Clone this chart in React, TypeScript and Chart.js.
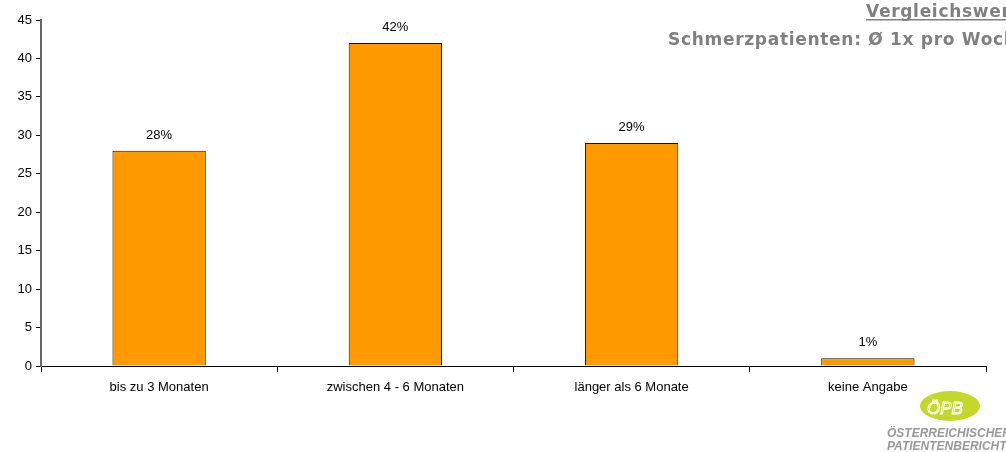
import React, { useEffect, useRef } from "react";
import { Chart, registerables } from "chart.js";
Chart.register(...registerables);

const categories = ["bis zu 3 Monaten", "zwischen 4 - 6 Monaten", "länger als 6 Monate", "keine Angabe"];
const values = [28, 42, 29, 1];
const valueLabels = ["28%", "42%", "29%", "1%"];
const titleLine1 = "Vergleichswerte";
const titleLine2 = "Schmerzpatienten: Ø 1x pro Woche";
const logoText = "ÖPB";
const logoLine1 = "ÖSTERREICHISCHER";
const logoLine2 = "PATIENTENBERICHT";

const FONT = "'Liberation Sans', Arial, sans-serif";
const TITLE_FONT = "'DejaVu Sans', Verdana, sans-serif";

const decorPlugin = {
  id: "decor",
  afterDatasetsDraw(chart: any) {
    const ctx = chart.ctx;
    const meta = chart.getDatasetMeta(0);
    ctx.save();
    ctx.fillStyle = "#000";
    ctx.font = `13px ${FONT}`;
    ctx.textAlign = "center";
    ctx.textBaseline = "alphabetic";
    meta.data.forEach((bar: any, i: number) => {
      ctx.fillText(valueLabels[i], bar.x, bar.y - 12);
    });
    // title
    ctx.fillStyle = "#808080";
    ctx.font = `bold 17px ${TITLE_FONT}`;
    ctx.letterSpacing = "0.7px";
    ctx.textAlign = "left";
    ctx.fillText(titleLine1, 866, 17);
    const w1 = ctx.measureText(titleLine1).width;
    ctx.fillRect(866, 19, w1, 1.5);
    ctx.fillText(titleLine2, 668, 45);
    ctx.letterSpacing = "0px";
    // logo
    ctx.fillStyle = "#c3d82a";
    ctx.beginPath();
    ctx.ellipse(950, 406, 30, 15, 0, 0, Math.PI * 2);
    ctx.fill();
    ctx.font = `italic 17px ${FONT}`;
    ctx.strokeStyle = "#fff";
    ctx.lineWidth = 1;
    ctx.textAlign = "center";
    ctx.strokeText(logoText, 945, 414);
    ctx.fillStyle = "#999";
    ctx.font = `italic bold 12px ${FONT}`;
    ctx.textAlign = "left";
    ctx.fillText(logoLine1, 887, 437);
    ctx.fillText(logoLine2, 887, 450);
    ctx.restore();
  },
};

export default function App() {
  const ref = useRef<HTMLCanvasElement>(null);
  useEffect(() => {
    const chart = new Chart(ref.current!, {
      type: "bar",
      data: {
        labels: categories,
        datasets: [
          {
            data: values,
            backgroundColor: "#FF9900",
            borderColor: "#111",
            borderWidth: 1,
            categoryPercentage: 1,
            barPercentage: 0.395,
          },
        ],
      },
      options: {
        responsive: false,
        animation: false,
        layout: { padding: { top: 20, right: 20, left: 0, bottom: 0 } },
        plugins: { legend: { display: false }, tooltip: { enabled: false } },
        scales: {
          x: {
            grid: {
              display: true,
              drawOnChartArea: false,
              drawTicks: true,
              tickLength: 6,
              color: "#000",
              offset: true,
            },
            border: { display: true, color: "#000", width: 1 },
            ticks: { color: "#000", font: { family: FONT, size: 13 }, padding: 8, maxRotation: 0 },
            afterFit(scale: any) {
              scale.height = 86;
            },
          },
          y: {
            min: 0,
            max: 45,
            ticks: { stepSize: 5, color: "#000", font: { family: FONT, size: 13 }, padding: 4 },
            grid: {
              display: true,
              drawOnChartArea: false,
              drawTicks: true,
              tickLength: 5,
              color: "#000",
            },
            border: { display: true, color: "#666", width: 2 },
            afterFit(scale: any) {
              scale.width = 41;
            },
          },
        },
      },
      plugins: [decorPlugin],
    } as any);
    return () => chart.destroy();
  }, []);
  return (
    <div style={{ position: "fixed", left: 0, top: 0, width: 1006, height: 452, background: "#fff" }}>
      <canvas ref={ref} width={1006} height={452} />
    </div>
  );
}
